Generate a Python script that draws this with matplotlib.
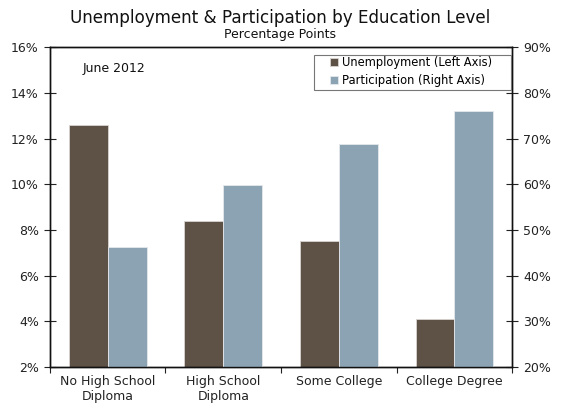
import matplotlib
matplotlib.use("Agg")
import matplotlib.pyplot as plt
from matplotlib.patches import Rectangle
import numpy as np

# data (June 2012)
categories = ["No High School\nDiploma", "High School\nDiploma", "Some College", "College Degree"]
unemployment = [12.6, 8.4, 7.5, 4.1]      # left axis, %
participation = [46.3, 59.8, 68.9, 76.0]  # right axis, %

unemp_color = "#5E5246"
part_color = "#8BA3B2"

plt.rcParams["font.family"] = "DejaVu Sans"

fig = plt.figure(figsize=(5.61, 4.07), dpi=100)
ax = fig.add_axes([0.089, 0.098, 0.824, 0.786])
ax2 = ax.twinx()

x = np.arange(len(categories))
w = 0.336

b1 = ax.bar(x - w / 2, unemployment, w, color=unemp_color, edgecolor="#d8d4d0", linewidth=0.6)
b2 = ax2.bar(x + w / 2, participation, w, color=part_color, edgecolor="#e4e8ec", linewidth=0.6)

ax.set_ylim(2, 16)
ax.set_yticks(np.arange(2, 17, 2))
ax.set_yticklabels(["%d%%" % v for v in range(2, 17, 2)])
ax2.set_ylim(20, 90)
ax2.set_yticks(np.arange(20, 91, 10))
ax2.set_yticklabels(["%d%%" % v for v in range(20, 91, 10)])

ax.set_xlim(-0.5, len(categories) - 0.5)
ax.set_xticks(np.arange(-0.5, len(categories), 1.0))
ax.set_xticklabels([])
ax.set_xticks(x, minor=True)
ax.set_xticklabels(categories, minor=True, fontsize=9, color="#222222", linespacing=1.2)
ax.tick_params(axis="x", which="minor", length=0, pad=6)
ax.tick_params(axis="x", which="major", direction="out", length=4, color="#222222")

ax.tick_params(axis="y", direction="inout", length=8, labelsize=9, colors="#222222", pad=4)
ax2.tick_params(axis="y", direction="inout", length=8, labelsize=9, colors="#222222", pad=4)

for a in (ax, ax2):
    for s in a.spines.values():
        s.set_linewidth(1.0)
        s.set_color("#111111")

fig.text(0.5, 0.955, "Unemployment & Participation by Education Level",
         ha="center", va="center", fontsize=12.1, color="#111111")
fig.text(0.5, 0.916, "Percentage Points", ha="center", va="center",
         fontsize=9, color="#111111")

ax.text(0.07, 0.935, "June 2012", transform=ax.transAxes, fontsize=9,
        va="center", ha="left", color="#111111")

# legend box drawn separately (reference box has wide left padding)
ax2.add_patch(Rectangle((0.571, 0.866), 0.427, 0.11, transform=ax2.transAxes,
                        facecolor="white", edgecolor="#777777", linewidth=0.8, zorder=5))
leg = ax2.legend([b1, b2], ["Unemployment (Left Axis)", "Participation (Right Axis)"],
                 loc="upper left", bbox_to_anchor=(0.606, 0.972), fontsize=8.3,
                 frameon=False, handlelength=0.7, handleheight=0.7,
                 handletextpad=0.3, borderpad=0, labelspacing=0.45, borderaxespad=0)
leg.set_zorder(6)

fig.savefig("out.png", dpi=100)
